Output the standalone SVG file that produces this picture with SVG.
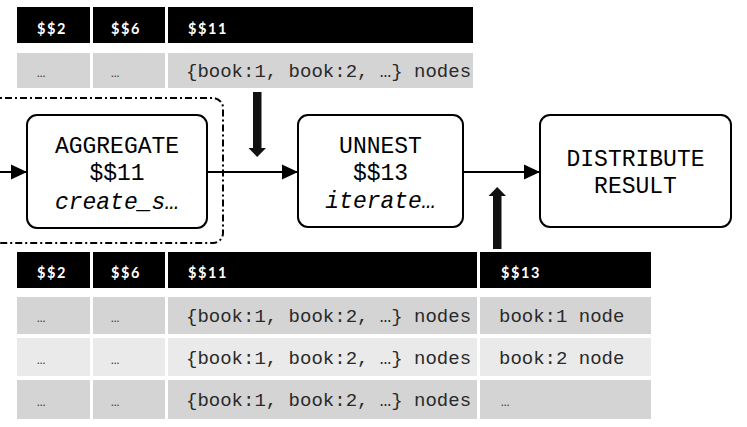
<svg xmlns="http://www.w3.org/2000/svg" width="747" height="427" viewBox="0 0 747 427">
<style>
.hdr{fill:#000}
.r1{fill:#d4d4d4}
.r2{fill:#eaeaea}
.ht{font-family:Lato,"DejaVu Sans",sans-serif;font-weight:bold;font-size:14.5px;fill:#fff;letter-spacing:1.6px}
.el{font-family:Lato,"DejaVu Sans",sans-serif;font-size:11px;fill:#333}
.mt{font-family:"Liberation Mono","Courier New",monospace;font-size:19px;fill:#2a2a2a}
.node{fill:#fff;stroke:#000;stroke-width:2}
.nt{font-family:"Liberation Mono","Courier New",monospace;font-size:23px;fill:#000;text-anchor:middle}
.it{font-style:italic}
.edge{stroke:#000;stroke-width:2;fill:none}
.big{fill:#111}
</style>
<defs>
<marker id="ah" viewBox="0 0 16 16" refX="16" refY="8" markerWidth="16" markerHeight="16" markerUnits="userSpaceOnUse" orient="auto">
<path d="M0,0.5 L16,8 L0,15.5 Z" fill="#000"/>
</marker>
</defs>

<g id="table-top">
<rect class="hdr" x="17" y="7" width="73" height="36"/>
<rect class="hdr" x="93" y="7" width="72" height="36"/>
<rect class="hdr" x="168" y="7" width="305" height="36"/>
<text class="ht" x="37" y="34">$$2</text>
<text class="ht" x="111" y="34">$$6</text>
<text class="ht" x="188" y="34">$$11</text>
<rect class="r1" x="17" y="53" width="73" height="35"/>
<rect class="r1" x="93" y="53" width="72" height="35"/>
<rect class="r1" x="168" y="53" width="305" height="35"/>
<text class="el" x="37" y="77">…</text>
<text class="el" x="111" y="77">…</text>
<text class="mt" x="186" y="77">{book:1, book:2, …} nodes</text>
</g>

<g id="group-box">
<rect x="-20" y="98" width="243" height="145" rx="10" ry="10" fill="none" stroke="#000" stroke-width="2" stroke-dasharray="7 3 2 3"/>
</g>

<g id="connectors">
<line class="edge" x1="0" y1="172" x2="27" y2="172" marker-end="url(#ah)"/>
<line class="edge" x1="207" y1="172" x2="298" y2="172" marker-end="url(#ah)"/>
<line class="edge" x1="463" y1="172" x2="540" y2="172" marker-end="url(#ah)"/>
<path class="big" d="M253,92 L261.5,92 L261.5,148 L266,148 L257.2,157 L248.5,148 L253,148 Z"/>
<path class="big" d="M493,249 L501.5,249 L501.5,196 L506,196 L497.2,187 L488.5,196 L493,196 Z"/>
</g>

<g id="node-aggregate">
<rect class="node" x="27" y="115" width="180" height="113" rx="10" ry="10"/>
<text class="nt" x="117" y="153">AGGREGATE</text>
<text class="nt" x="117" y="180">$$11</text>
<text class="nt it" x="117" y="209">create_s…</text>
</g>

<g id="node-unnest">
<rect class="node" x="298" y="115" width="165" height="112" rx="10" ry="10"/>
<text class="nt" x="380.5" y="153">UNNEST</text>
<text class="nt" x="380.5" y="180">$$13</text>
<text class="nt it" x="380.5" y="208">iterate…</text>
</g>

<g id="node-distribute">
<rect class="node" x="540" y="115" width="191" height="112" rx="10" ry="10"/>
<text class="nt" x="635.5" y="166">DISTRIBUTE</text>
<text class="nt" x="635.5" y="193">RESULT</text>
</g>

<g id="table-bottom">
<rect class="hdr" x="17" y="252" width="73" height="36"/>
<rect class="hdr" x="93" y="252" width="72" height="36"/>
<rect class="hdr" x="168" y="252" width="309" height="36"/>
<rect class="hdr" x="480" y="252" width="171" height="36"/>
<text class="ht" x="37" y="278">$$2</text>
<text class="ht" x="111" y="278">$$6</text>
<text class="ht" x="188" y="278">$$11</text>
<text class="ht" x="501" y="278">$$13</text>

<rect class="r1" x="17" y="297" width="73" height="37"/>
<rect class="r1" x="93" y="297" width="72" height="37"/>
<rect class="r1" x="168" y="297" width="309" height="37"/>
<rect class="r1" x="480" y="297" width="171" height="37"/>
<text class="el" x="37" y="322">…</text>
<text class="el" x="111" y="322">…</text>
<text class="mt" x="186" y="322">{book:1, book:2, …} nodes</text>
<text class="mt" x="499" y="322">book:1 node</text>

<rect class="r2" x="17" y="338" width="73" height="38"/>
<rect class="r2" x="93" y="338" width="72" height="38"/>
<rect class="r2" x="168" y="338" width="309" height="38"/>
<rect class="r2" x="480" y="338" width="171" height="38"/>
<text class="el" x="37" y="364">…</text>
<text class="el" x="111" y="364">…</text>
<text class="mt" x="186" y="364">{book:1, book:2, …} nodes</text>
<text class="mt" x="499" y="364">book:2 node</text>

<rect class="r1" x="17" y="380" width="73" height="39"/>
<rect class="r1" x="93" y="380" width="72" height="39"/>
<rect class="r1" x="168" y="380" width="309" height="39"/>
<rect class="r1" x="480" y="380" width="171" height="39"/>
<text class="el" x="37" y="406">…</text>
<text class="el" x="111" y="406">…</text>
<text class="mt" x="186" y="406">{book:1, book:2, …} nodes</text>
<text class="el" x="501" y="406">…</text>
</g>
</svg>
